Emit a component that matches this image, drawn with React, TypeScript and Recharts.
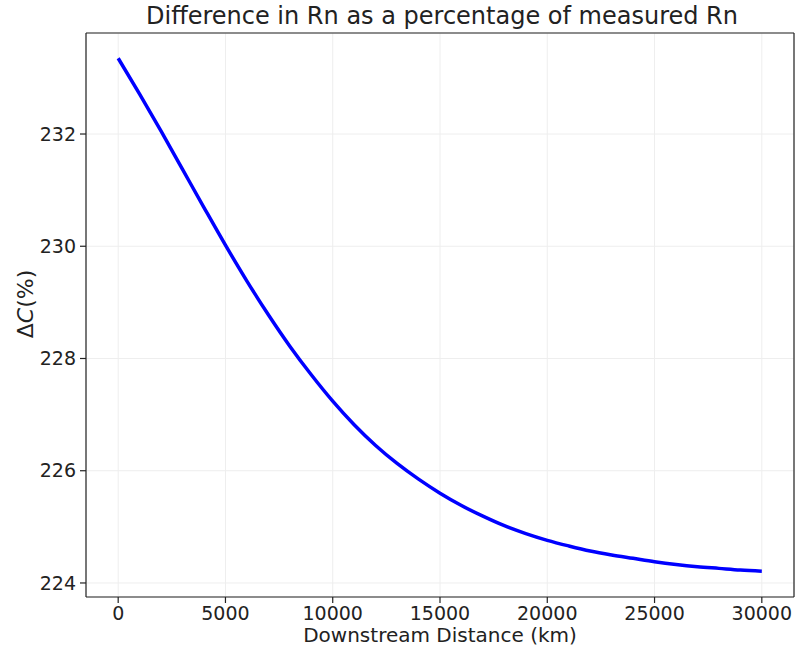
import React from "react";
import {
  LineChart,
  Line,
  XAxis,
  YAxis,
  CartesianGrid,
  Label,
  ReferenceLine,
} from "recharts";

// Downstream distance (km) and difference in Rn (%)
const distanceKm = [
  0, 1000, 2000, 3000, 4000, 5000, 6000, 7000, 8000, 9000, 10000, 11000, 12000,
  13000, 14000, 15000, 16000, 17000, 18000, 19000, 20000, 21000, 22000, 23000,
  24000, 25000, 26000, 27000, 28000, 29000, 30000,
];
const deltaC = [
  233.35, 232.71, 232.05, 231.37, 230.69, 230.02, 229.38, 228.78, 228.22,
  227.71, 227.24, 226.82, 226.45, 226.13, 225.85, 225.6, 225.38, 225.19,
  225.02, 224.88, 224.76, 224.66, 224.57, 224.5, 224.44, 224.38, 224.33,
  224.29, 224.26, 224.23, 224.21,
];

const xTicks = [0, 5000, 10000, 15000, 20000, 25000, 30000];
const yTicks = [224, 226, 228, 230, 232];

const title = "Difference in Rn as a percentage of measured Rn";
const xLabel = "Downstream Distance (km)";

const X_DOMAIN: [number, number] = [-1500, 31500];
const Y_DOMAIN: [number, number] = [223.75, 233.8];

const data = distanceKm.map((x, i) => ({ x, y: deltaC[i] }));

const FONT = "'DejaVu Sans', Verdana, sans-serif";
const AXIS = "#222";

// y-axis label with mathtext-like italic C
function YLabel() {
  const cx = 25;
  const cy = 304;
  return (
    <text
      x={cx}
      y={cy}
      transform={`rotate(-90, ${cx}, ${cy})`}
      textAnchor="middle"
      dominantBaseline="central"
      fontSize={22}
      fontFamily={FONT}
      fill={AXIS}
    >
      Δ<tspan fontStyle="italic">C</tspan>(%)
    </text>
  );
}

export default function App() {
  return (
    <div style={{ position: "absolute", left: 0, top: 0, width: 798, height: 650, background: "#fff" }}>
      <LineChart
        width={798}
        height={650}
        data={data}
        margin={{ top: 33, right: 4, bottom: 0, left: 0 }}
      >
        <text
          x={442}
          y={16}
          textAnchor="middle"
          dominantBaseline="central"
          fontSize={24}
          fontFamily={FONT}
          fill={AXIS}
        >
          {title}
        </text>
        <CartesianGrid stroke="#eeeeee" strokeWidth={1} />
        <XAxis
          dataKey="x"
          type="number"
          domain={X_DOMAIN}
          ticks={xTicks}
          allowDataOverflow
          height={53}
          tickSize={6}
          tickMargin={4}
          stroke={AXIS}
          strokeWidth={1.2}
          tick={{ fill: AXIS, fontSize: 19, fontFamily: FONT }}
        >
          <Label
            value={xLabel}
            position="insideBottom"
            offset={8}
            style={{ fill: AXIS, fontSize: 20, fontFamily: FONT }}
          />
        </XAxis>
        <YAxis
          type="number"
          domain={Y_DOMAIN}
          ticks={yTicks}
          allowDataOverflow
          width={86}
          tickSize={6}
          tickMargin={4}
          stroke={AXIS}
          strokeWidth={1.2}
          tick={{ fill: AXIS, fontSize: 19, fontFamily: FONT }}
        >
          <Label content={<YLabel />} />
        </YAxis>
        {/* top and right spines */}
        <ReferenceLine y={Y_DOMAIN[1]} stroke={AXIS} strokeWidth={1.2} />
        <ReferenceLine x={X_DOMAIN[1]} stroke={AXIS} strokeWidth={1.2} />
        <Line
          dataKey="y"
          type="monotone"
          stroke="#0000ff"
          strokeWidth={3.5}
          dot={false}
          isAnimationActive={false}
        />
      </LineChart>
    </div>
  );
}
